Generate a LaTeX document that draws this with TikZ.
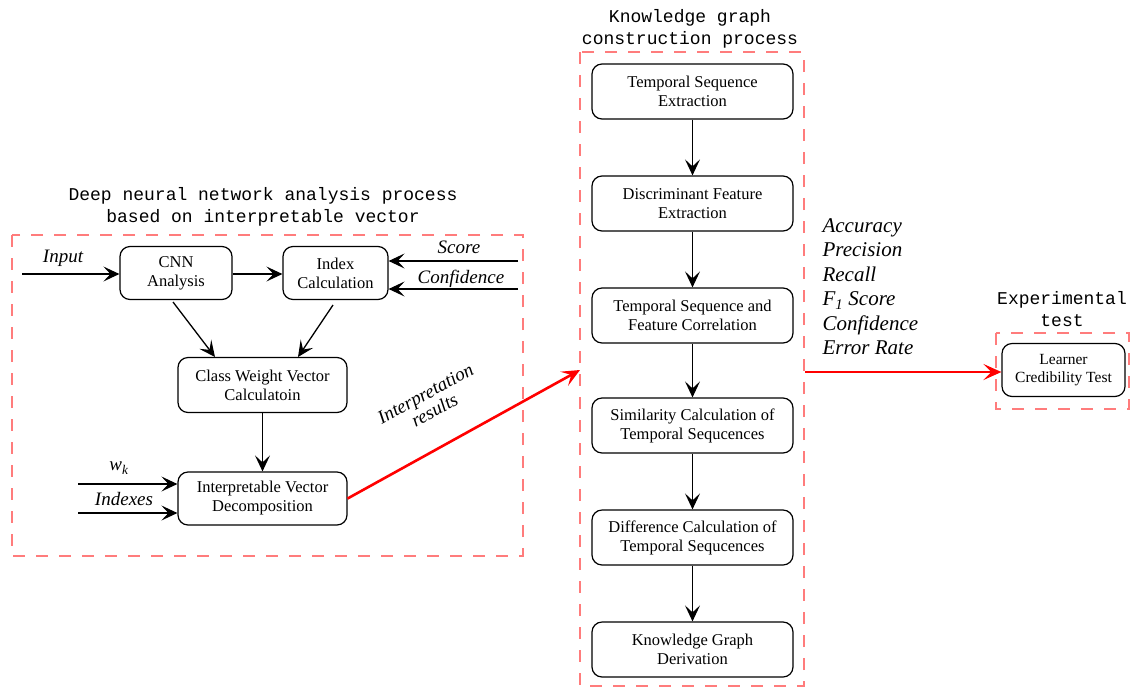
\documentclass[tikz,border=0pt]{standalone}
\usepackage{fontspec}
\setmainfont{Liberation Serif}
\newfontfamily\monof{Liberation Mono}
\usetikzlibrary{arrows.meta}
\definecolor{dashred}{HTML}{FF7C7C}
\tikzset{
  box/.style={draw, line width=1.2pt, rounded corners=10pt, align=center, font=\fontsize{16.5}{19}\selectfont, inner sep=0pt},
  arr/.style={-{Stealth[length=16pt,width=15pt,inset=7pt]}, line width=1.3pt},
  redarr/.style={-{Stealth[length=18pt,width=16pt,inset=8pt]}, line width=2.6pt, red},
  group/.style={draw=dashred, line width=2pt, dash pattern=on 12pt off 11pt},
  title/.style={font=\monof\fontsize{18}{22}\selectfont, align=center},
  lbl/.style={font=\itshape\fontsize{19}{22}\selectfont},
}
\begin{document}
\begin{tikzpicture}[x=1pt,y=-1pt]
\useasboundingbox (0,0) rectangle (1132,689);
% groups
\draw[group] (12,235) rectangle (523,556);
\draw[group] (580,52) rectangle (804,686);
\draw[group] (996,333) rectangle (1129,409);
\node[title] (t1) at (263,207) {Deep neural network analysis process\\based on interpretable vector};
\node[title] (t2) at (690,29) {Knowledge graph\\construction process};
\node[title] (t3) at (1062,309) {Experimental\\test};
% left boxes
\node[box, minimum width=112pt, minimum height=53pt] (cnn) at (176,273) {CNN\\Analysis};
\node[box, minimum width=105pt, minimum height=53pt] (idx) at (335.5,273) {Index\\Calculation};
\node[box, minimum width=169pt, minimum height=55pt] (cw) at (262.5,385) {Class Weight Vector\\Calculatoin};
\node[box, minimum width=169pt, minimum height=53pt] (ivd) at (262.5,498.5) {Interpretable Vector\\Decomposition};
\coordinate (inp) at (22,274);
\coordinate (sc) at (518,261);
\coordinate (cf) at (518,289);
\coordinate (wk) at (78,484);
\coordinate (ix) at (78,513);
\draw[arr] (inp) -- (cnn.west |- inp);
\draw[arr] (cnn.east |- inp) -- (idx.west |- inp);
\draw[arr] (sc) -- (idx.east |- sc);
\draw[arr] (cf) -- (idx.east |- cf);
\draw[arr] (173,302) -- (215,357);
\draw[arr] (333,305) -- (298,357);
\draw[arr] (cw.south) -- (ivd.north);
\draw[arr] (wk) -- (ivd.west |- wk);
\draw[arr] (ix) -- (ivd.west |- ix);
\node[lbl] (linp) at (63,258) {Input};
\node[lbl] (lsc) at (459,247) {Score};
\node[lbl] (lcf) at (461,279) {Confidence};
\node[lbl] (lwk) at (119,468) {w\textsubscript{k}};
\node[lbl] (lix) at (124,499) {Indexes};
% middle column
\foreach \n/\y/\t in {k1/91.5/{Temporal Sequence\\Extraction},
                      k2/203.5/{Discriminant Feature\\Extraction},
                      k3/315.5/{Temporal Sequence and\\Feature Correlation},
                      k4/425.5/{Similarity Calculation of\\Temporal Sequcences},
                      k5/537.5/{Difference Calculation of\\Temporal Sequcences},
                      k6/649.5/{Knowledge Graph\\Derivation}}
  \node[box, minimum width=201pt, minimum height=55pt] (\n) at (692.5,\y) {\t};
\foreach \a/\b in {k1/k2,k2/k3,k3/k4,k4/k5,k5/k6}
  \draw[arr] (\a) -- (\b);
% red connections
\coordinate (kin) at (580,370);
\draw[redarr] (ivd.east) -- (kin);
\node[font=\itshape\fontsize{19}{19}\selectfont, rotate=28.6, align=center] (lres) at (430,402) {Interpretation\\results};
\node[box, minimum width=123pt, minimum height=53pt, font=\fontsize{15.5}{18}\selectfont] (lct) at (1063.5,370) {Learner\\Credibility Test};
\coordinate (kout) at (805,372);
\draw[redarr] (kout) -- (lct.west |- kout) ;
\node[lbl, align=left, anchor=north west, font=\itshape\fontsize{21}{24.5}\selectfont] (metrics) at (819,215) {Accuracy\\Precision\\Recall\\F\textsubscript{1} Score\\Confidence\\Error Rate};
\end{tikzpicture}
\end{document}
